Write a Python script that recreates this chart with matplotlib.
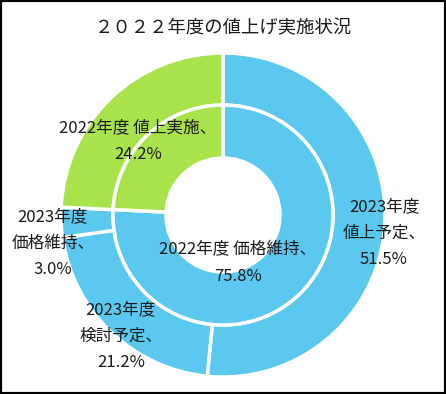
import matplotlib.pyplot as plt
from matplotlib.patches import Rectangle

plt.rcParams['font.family'] = ['Noto Sans CJK JP', 'DejaVu Sans']

title = '２０２２年度の値上げ実施状況'

# outer ring: 2023 plans (green part = 2022 値上実施, continues from inner)
outer_vals = [51.5, 21.2, 3.0, 24.2]
outer_labels = ['2023年度\n値上予定、\n51.5%', '2023年度\n検討予定、\n21.2%',
                '2023年度\n価格維持、\n3.0%', '']
# inner ring: 2022 results
inner_vals = [75.8, 24.2]
inner_labels = ['2022年度 価格維持、\n75.8%', '2022年度 値上実施、\n24.2%']

blue = '#5BC8F0'
green = '#A9E34C'
outer_colors = [blue, blue, blue, green]
inner_colors = [blue, green]

fig = plt.figure(figsize=(4.46, 3.94), dpi=100)
ax = fig.add_axes([0, 0, 1, 1])

cx, cy = 223, 394 - 215
R_out, R_mid, R_in = 162, 110, 57

ax.pie(outer_vals, colors=outer_colors, startangle=90, counterclock=False,
       radius=R_out, center=(cx, cy),
       wedgeprops=dict(width=R_out - R_mid, edgecolor='white', linewidth=2.5))
ax.pie(inner_vals, colors=inner_colors, startangle=90, counterclock=False,
       radius=R_mid, center=(cx, cy),
       wedgeprops=dict(width=R_mid - R_in, edgecolor='white', linewidth=2.5))

ax.set_xlim(0, 446)
ax.set_ylim(0, 394)
ax.set_aspect('equal')
ax.axis('off')

# label positions in pixel coords (from top-left)
outer_pos = [(384, 233), (121, 336), (53, 243), (0, 0)]
inner_pos = [(238, 263), (138, 141)]
for lab, (x, y) in zip(outer_labels + inner_labels, outer_pos + inner_pos):
    if lab:
        ax.text(x, 394 - y, lab, ha='center', va='center', fontsize=12,
                color='#1a1a1a', linespacing=1.7)

fig.text(0.5, 1 - 28 / 394, title, ha='center', va='center', fontsize=13.2,
         color='#1a1a1a')

fig.patches.append(Rectangle((0, 0), 1, 1, transform=fig.transFigure,
                             fill=False, edgecolor='black', linewidth=3))

fig.savefig('out.png', dpi=100)
